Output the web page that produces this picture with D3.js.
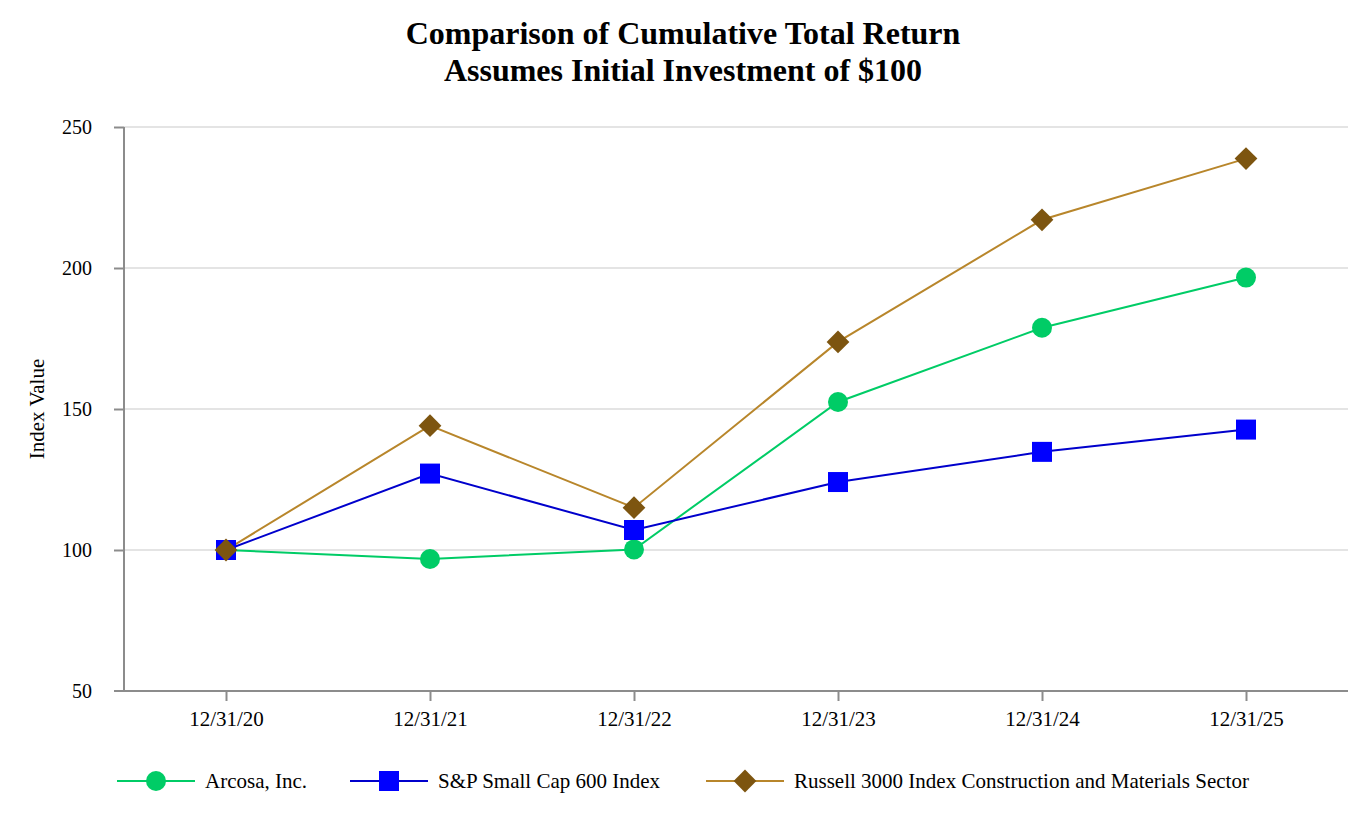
<!DOCTYPE html>
<html>
<head>
<meta charset="utf-8">
<script src="https://cdn.jsdelivr.net/npm/d3@7"></script>
<style>
  body { margin: 0; background: #fff; }
  svg text { font-family: "Liberation Serif", "Times New Roman", serif; fill: #000; }
</style>
</head>
<body>
<svg id="chart" width="1368" height="820"></svg>
<script>
const dates = ["12/31/20", "12/31/21", "12/31/22", "12/31/23", "12/31/24", "12/31/25"];
const arcosa = [100, 96.8, 100.2, 152.5, 178.8, 196.6];
const sp600 = [100, 127.1, 107.1, 124.1, 134.8, 142.7];
const russell = [100, 144.1, 115.0, 173.8, 217.1, 238.8];
const yTicks = [50, 100, 150, 200, 250];

const series = [
  { name: "Arcosa, Inc.", values: arcosa, line: "#00cc66", fill: "#00cc66", symbol: d3.symbolCircle, size: 314 },
  { name: "S&P Small Cap 600 Index", values: sp600, line: "#0000cc", fill: "#0000ff", symbol: d3.symbolSquare, size: 400 },
  { name: "Russell 3000 Index Construction and Materials Sector", values: russell, line: "#b8862b", fill: "#7d5510", symbol: d3.symbolDiamond2, size: 330 }
];

const svg = d3.select("#chart");
const margin = { top: 127, right: 20, bottom: 129, left: 124 };
const width = +svg.attr("width") - margin.left - margin.right;
const height = +svg.attr("height") - margin.top - margin.bottom;

// scales
const xScale = d3.scalePoint()
  .domain(dates)
  .range([margin.left, margin.left + width])
  .padding(0.5);

const yScale = d3.scaleLinear()
  .domain([50, 250])
  .range([margin.top + height, margin.top]);

// title
svg.append("text")
  .attr("x", 683).attr("y", 44)
  .attr("text-anchor", "middle")
  .style("font-size", "32px").style("font-weight", "bold")
  .text("Comparison of Cumulative Total Return");
svg.append("text")
  .attr("x", 683).attr("y", 81)
  .attr("text-anchor", "middle")
  .style("font-size", "32px").style("font-weight", "bold")
  .text("Assumes Initial Investment of $100");

// grid lines
svg.selectAll(".h-line")
  .data(yTicks.filter(d => d > 50))
  .enter()
  .append("line")
  .attr("class", "h-line")
  .attr("x1", margin.left)
  .attr("x2", margin.left + width)
  .attr("y1", d => yScale(d))
  .attr("y2", d => yScale(d))
  .attr("stroke", "#e4e4e4")
  .attr("stroke-width", 2);

// axes
const yAxis = svg.append("g")
  .attr("transform", `translate(${margin.left}, 0)`)
  .call(d3.axisLeft(yScale).tickValues(yTicks).tickSize(10).tickPadding(22));

const xAxis = svg.append("g")
  .attr("transform", `translate(0, ${margin.top + height})`)
  .call(d3.axisBottom(xScale).tickSize(10).tickPadding(10).tickSizeOuter(0));

[yAxis, xAxis].forEach(ax => {
  ax.selectAll("path, line").attr("stroke", "#8c8c8c").attr("stroke-width", 2);
  ax.selectAll("text").attr("fill", "#000");
});
yAxis.selectAll("text").style("font-size", "20px");
xAxis.selectAll("text").style("font-size", "21px");
// left axis extends past bottom; bottom axis starts left of the y axis
yAxis.select(".domain").attr("d", `M0,${margin.top}V${margin.top + height}`);
xAxis.select(".domain").attr("d", `M${margin.left - 10},0H${margin.left + width}`);
yAxis.selectAll(".tick").filter(d => d === 50).select("line").remove();

// y axis title
svg.append("text")
  .attr("transform", `translate(44, 409) rotate(-90)`)
  .attr("text-anchor", "middle")
  .style("font-size", "21px")
  .text("Index Value");

// lines + markers
const line = d3.line()
  .x((d, i) => xScale(dates[i]))
  .y(d => yScale(d));

series.forEach(s => {
  svg.append("path")
    .datum(s.values)
    .attr("fill", "none")
    .attr("stroke", s.line)
    .attr("stroke-width", 2)
    .attr("d", line);
});

series.forEach(s => {
  svg.selectAll(null)
    .data(s.values)
    .enter()
    .append("path")
    .attr("transform", (d, i) => `translate(${xScale(dates[i])}, ${yScale(d)})`)
    .attr("d", d3.symbol().type(s.symbol).size(s.size))
    .attr("fill", s.fill);
});

// legend
const legendX = [117, 350, 706];
const legend = svg.append("g").attr("transform", "translate(0, 781)");
series.forEach((s, i) => {
  const g = legend.append("g").attr("transform", `translate(${legendX[i]}, 0)`);
  g.append("line")
    .attr("x1", 0).attr("x2", 78)
    .attr("stroke", s.line).attr("stroke-width", 2);
  g.append("path")
    .attr("transform", "translate(39, 0)")
    .attr("d", d3.symbol().type(s.symbol).size(s.size))
    .attr("fill", s.fill);
  g.append("text")
    .attr("x", 88).attr("y", 7)
    .style("font-size", "21px")
    .text(s.name);
});
</script>
</body>
</html>
